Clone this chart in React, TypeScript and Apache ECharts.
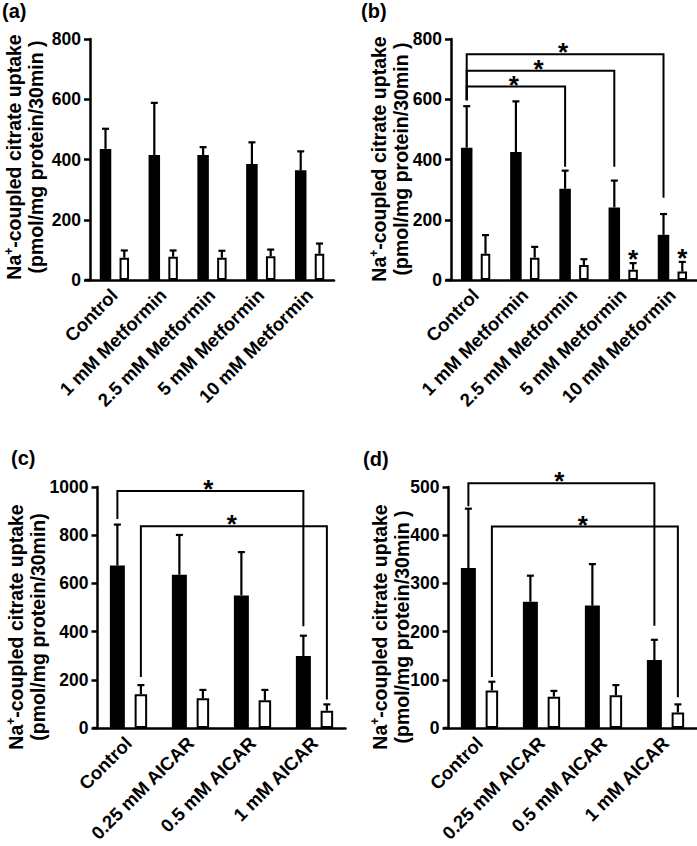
import React, { useEffect, useRef } from "react";
import * as echarts from "echarts";

// ---------- categories ----------
const metforminCats = ["Control", "1 mM Metformin", "2.5 mM Metformin", "5 mM Metformin", "10 mM Metformin"];
const aicarCats = ["Control", "0.25 mM AICAR", "0.5 mM AICAR", "1 mM AICAR"];

// ---------- panel (a) ----------
const aBlack = [435, 415, 415, 385, 364];
const aBlackErr = [502, 588, 441, 457, 427];
const aWhite = [74, 77, 74, 79, 87];
const aWhiteErr = [98, 98, 97, 101, 121];
const aWhiteSig = [false, false, false, false, false];

// ---------- panel (b) ----------
const bBlack = [439, 425, 303, 241, 150];
const bBlackErr = [577, 593, 363, 330, 219];
const bWhite = [87, 74, 50, 34, 28];
const bWhiteErr = [149, 110, 69, 56, 60];
const bWhiteSig = [false, false, false, true, true];
// [fromIdx, fromSide, toIdx, toSide, lineValue, fromEndValue, toEndValue]
const bBrackets = [
  [0, 0, 2, 0, 642, 597, 376],
  [0, 0, 3, 0, 695, 597, 376],
  [0, 0, 4, 0, 749, 597, 273],
];

// ---------- panel (c) ----------
const cBlack = [674, 636, 550, 299];
const cBlackErr = [844, 801, 730, 383];
const cWhite = [140, 123, 115, 72];
const cWhiteErr = [178, 158, 158, 98];
const cWhiteSig = [false, false, false, false];
const cBrackets = [
  [0, 0, 3, 0, 983, 867, 422],
  [0, 1, 3, 1, 837, 212, 118],
];

// ---------- panel (d) ----------
const dBlack = [332, 262, 254, 141];
const dBlackErr = [455, 316, 340, 183];
const dWhite = [78, 65, 68, 32];
const dWhiteErr = [96, 77, 89, 49];
const dWhiteSig = [false, false, false, false];
const dBrackets = [
  [0, 0, 3, 0, 508, 460, 212],
  [0, 1, 3, 1, 418, 106, 64],
];

// ---------- axis ranges ----------
const yMaxAB = 800;
const yStepAB = 200;
const yMaxC = 1000;
const yStepC = 200;
const yMaxD = 500;
const yStepD = 100;

const FONT = "'Liberation Sans', Arial, Helvetica, sans-serif";

type Panel = {
  cats: string[];
  black: number[];
  blackErr: number[];
  white: number[];
  whiteErr: number[];
  whiteSig: boolean[];
  brackets: number[][];
  yMax: number;
  yStep: number;
  grid: { left: number; top: number; width: number; height: number };
  wb: number;
  ww: number;
  gap: number;
};

function centers(wb: number, ww: number, g: number) {
  const sum = wb * (1 + g) + ww;
  const off = -sum / 2;
  return [off + wb / 2, off + wb * (1 + g) + ww / 2];
}

const starStyle = { text: "*", fill: "#000", fontSize: 26, fontWeight: "bold", fontFamily: FONT, align: "center", verticalAlign: "middle" };

function buildPanel(p: Panel, i: number) {
  const ctr = centers(p.wb, p.ww, p.gap);
  const cap = 7;
  const lw = 2.2;
  const grid = { ...p.grid, containLabel: false };
  const xAxis = {
    type: "category",
    gridIndex: i,
    data: p.cats,
    axisLine: { lineStyle: { color: "#000", width: 2.5 } },
    axisTick: { alignWithLabel: true, length: 6, lineStyle: { color: "#000", width: 2.5 } },
    axisLabel: {
      interval: 0,
      rotate: 45,
      margin: 12,
      color: "#000",
      fontWeight: "bold",
      fontSize: 18.5,
      fontFamily: FONT,
    },
    splitLine: { show: false },
  };
  const yAxis = {
    type: "value",
    gridIndex: i,
    min: 0,
    max: p.yMax,
    interval: p.yStep,
    axisLine: { show: true, lineStyle: { color: "#000", width: 2.5 } },
    axisTick: { show: true, length: 6, lineStyle: { color: "#000", width: 2.5 } },
    axisLabel: {
      color: "#000",
      fontWeight: "bold",
      fontSize: 17.5,
      fontFamily: FONT,
      margin: 9,
      formatter: (v: number) => String(v),
    },
    splitLine: { show: false },
  };
  const errData: number[][] = [];
  p.cats.forEach((_, k) => {
    errData.push([k, 0, p.black[k], p.blackErr[k], 0]);
    errData.push([k, 1, p.white[k], p.whiteErr[k], p.whiteSig[k] ? 1 : 0]);
  });
  const series: any[] = [
    {
      type: "bar",
      xAxisIndex: i,
      yAxisIndex: i,
      data: p.black,
      barWidth: p.wb,
      barGap: p.gap * 100 + "%",
      itemStyle: { color: "#000" },
      silent: true,
      z: 2,
    },
    {
      type: "bar",
      xAxisIndex: i,
      yAxisIndex: i,
      data: p.white,
      barWidth: p.ww,
      barGap: p.gap * 100 + "%",
      itemStyle: { color: "#fff", borderColor: "#000", borderWidth: 2 },
      silent: true,
      z: 2,
    },
    {
      type: "custom",
      xAxisIndex: i,
      yAxisIndex: i,
      data: errData,
      encode: { x: 0, y: 3 },
      silent: true,
      z: 5,
      renderItem: (_params: any, api: any) => {
        const k = api.value(0);
        const side = api.value(1);
        const p0 = api.coord([k, api.value(2)]);
        const p1 = api.coord([k, api.value(3)]);
        const x = p0[0] + ctr[side];
        const children: any[] = [
          { type: "line", shape: { x1: x, y1: p0[1], x2: x, y2: p1[1] }, style: { stroke: "#000", lineWidth: lw } },
          { type: "line", shape: { x1: x - cap / 2, y1: p1[1], x2: x + cap / 2, y2: p1[1] }, style: { stroke: "#000", lineWidth: lw } },
        ];
        if (api.value(4) === 1) {
          children.push({ type: "text", x: x, y: p1[1] - 4, style: starStyle });
        }
        return { type: "group", children };
      },
    },
  ];
  if (p.brackets.length) {
    series.push({
      type: "custom",
      xAxisIndex: i,
      yAxisIndex: i,
      data: p.brackets,
      encode: { x: 0, y: 4 },
      silent: true,
      z: 6,
      renderItem: (_params: any, api: any) => {
        const fIdx = api.value(0);
        const fSide = api.value(1);
        const tIdx = api.value(2);
        const tSide = api.value(3);
        const top = api.coord([fIdx, api.value(4)]);
        const fEnd = api.coord([fIdx, api.value(5)]);
        const tEnd = api.coord([tIdx, api.value(6)]);
        const xf = fEnd[0] + ctr[fSide];
        const xt = tEnd[0] + ctr[tSide];
        const yT = top[1];
        return {
          type: "group",
          children: [
            {
              type: "polyline",
              shape: { points: [[xf, fEnd[1]], [xf, yT], [xt, yT], [xt, tEnd[1]]] },
              style: { stroke: "#000", lineWidth: 2, fill: "none" },
            },
            { type: "text", x: (xf + xt) / 2 - 2, y: yT - 2, style: starStyle },
          ],
        };
      },
    });
  }
  return { grid, xAxis, yAxis, series };
}

const panels: Panel[] = [
  { cats: metforminCats, black: aBlack, blackErr: aBlackErr, white: aWhite, whiteErr: aWhiteErr, whiteSig: aWhiteSig, brackets: [], yMax: yMaxAB, yStep: yStepAB, grid: { left: 90, top: 39, width: 244, height: 241 }, wb: 11.5, ww: 9.5, gap: 0.72 },
  { cats: metforminCats, black: bBlack, blackErr: bBlackErr, white: bWhite, whiteErr: bWhiteErr, whiteSig: bWhiteSig, brackets: bBrackets, yMax: yMaxAB, yStep: yStepAB, grid: { left: 451, top: 39, width: 246, height: 241 }, wb: 11.5, ww: 9.5, gap: 0.72 },
  { cats: aicarCats, black: cBlack, blackErr: cBlackErr, white: cWhite, whiteErr: cWhiteErr, whiteSig: cWhiteSig, brackets: cBrackets, yMax: yMaxC, yStep: yStepC, grid: { left: 97.5, top: 487, width: 248, height: 241 }, wb: 15, ww: 12.5, gap: 0.65 },
  { cats: aicarCats, black: dBlack, blackErr: dBlackErr, white: dWhite, whiteErr: dWhiteErr, whiteSig: dWhiteSig, brackets: dBrackets, yMax: yMaxD, yStep: yStepD, grid: { left: 448.5, top: 487, width: 248, height: 241 }, wb: 15, ww: 12.5, gap: 0.65 },
];

const panelLetters = ["(a)", "(b)", "(c)", "(d)"];
const letterPos = [[2, 1], [361, 1], [11, 448], [363, 449]];
const titlePos = [[25, 157], [390, 159], [27, 627], [391, 627]];
const titleLine2 = ["(pmol/mg protein/30min )", "(pmol/mg protein/30min )", "(pmol/mg protein/30min)", "(pmol/mg protein/30min )"];

export default function App() {
  const ref = useRef<HTMLDivElement>(null);
  useEffect(() => {
    if (!ref.current) return;
    const chart = echarts.init(ref.current, undefined, { renderer: "svg" });
    const built = panels.map((p, i) => buildPanel(p, i));
    const graphic: any[] = [];
    panelLetters.forEach((t, i) => {
      graphic.push({
        type: "text",
        left: letterPos[i][0],
        top: letterPos[i][1],
        style: { text: t, fill: "#000", fontSize: 20, fontWeight: "bold", fontFamily: FONT },
      });
      graphic.push({
        type: "text",
        x: titlePos[i][0],
        y: titlePos[i][1],
        rotation: Math.PI / 2,
        style: {
          text: "{n|Na}{s|+}{n|-coupled citrate uptake}\n{n|" + titleLine2[i] + "}",
          align: "center",
          verticalAlign: "middle",
          fill: "#000",
          rich: {
            n: { fontSize: 19.5, fontWeight: "bold", fontFamily: FONT, fill: "#000", lineHeight: 22 },
            s: { fontSize: 12, fontWeight: "bold", fontFamily: FONT, fill: "#000", lineHeight: 22, verticalAlign: "top", padding: [0, 0, 7, 0] },
          },
        },
      });
      // small extension of the x-axis line to the left of the y-axis
      const g = panels[i].grid;
      graphic.push({
        type: "line",
        shape: { x1: g.left - 5, y1: g.top + g.height, x2: g.left, y2: g.top + g.height },
        style: { stroke: "#000", lineWidth: 2.5 },
      });
    });
    chart.setOption({
      animation: false,
      backgroundColor: "#fff",
      grid: built.map((b) => b.grid),
      xAxis: built.map((b) => b.xAxis),
      yAxis: built.map((b) => b.yAxis),
      series: built.flatMap((b) => b.series),
      graphic,
    });
    return () => chart.dispose();
  }, []);
  return <div ref={ref} style={{ position: "absolute", left: 0, top: 0, width: 697, height: 846 }} />;
}
